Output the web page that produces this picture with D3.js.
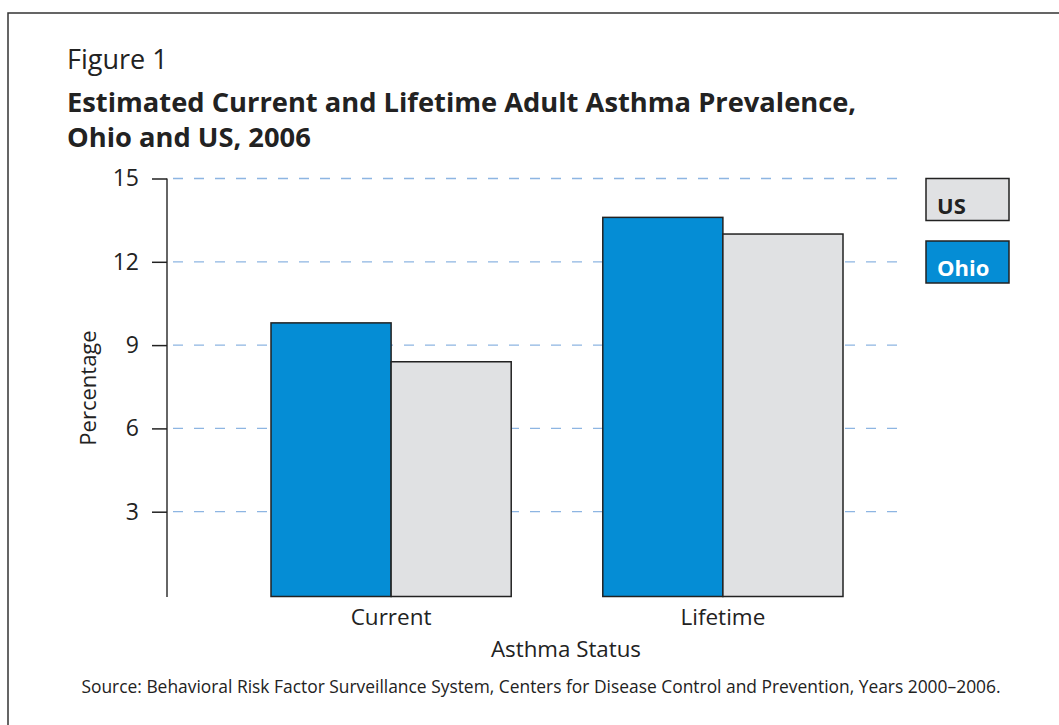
<!DOCTYPE html>
<html>
<head>
<meta charset="utf-8">
<script src="https://cdn.jsdelivr.net/npm/d3@7"></script>
<style>
  body { margin: 0; background: #fff; }
  svg { display: block; font-family: "Open Sans", "Noto Sans", sans-serif; }
</style>
</head>
<body>
<script>
// données
const categories = ["Current", "Lifetime"];
const series = ["Ohio", "US"];
const ohio = [9.8, 13.6];
const us = [8.4, 13.0];
const yTicks = [3, 6, 9, 12, 15];

const width = 1059;
const height = 725;

const colors = { Ohio: "#058dd5", US: "#e0e1e3" };

const svg = d3.select("body").append("svg")
    .attr("width", width)
    .attr("height", height);

// cadre
svg.append("path")
    .attr("d", `M8,${height + 5} L8,13 L${width + 5},13`)
    .attr("fill", "none")
    .attr("stroke", "#333")
    .attr("stroke-width", 1.5);

// titres
svg.append("text").attr("x", 67).attr("y", 69)
    .attr("font-size", 27).attr("fill", "#222").text("Figure 1");
svg.append("text").attr("x", 67).attr("y", 112)
    .attr("font-size", 27.3).attr("font-weight", "bold").attr("fill", "#222")
    .text("Estimated Current and Lifetime Adult Asthma Prevalence,");
svg.append("text").attr("x", 67).attr("y", 147)
    .attr("font-size", 27.3).attr("font-weight", "bold").attr("fill", "#222")
    .text("Ohio and US, 2006");

const y = d3.scaleLinear().domain([0, 15]).range([595, 178.5]);

const x0 = d3.scaleBand().domain(categories).range([271, 843])
    .paddingInner(0.276).paddingOuter(0);
const x1 = d3.scaleBand().domain(series).range([0, x0.bandwidth()]);

// grille
svg.append("g").selectAll("line")
    .data(yTicks)
    .join("line")
    .attr("x1", 173).attr("x2", 906)
    .attr("y1", d => y(d)).attr("y2", d => y(d))
    .attr("stroke", "#8db5e2")
    .attr("stroke-width", 1.3)
    .attr("stroke-dasharray", "10,11");

// barres
const rows = categories.map((c, i) => ({ cat: c, Ohio: ohio[i], US: us[i] }));
svg.append("g").selectAll("g")
    .data(rows)
    .join("g")
    .attr("transform", d => `translate(${x0(d.cat)},0)`)
    .selectAll("rect")
    .data(d => series.map(s => ({ s, v: d[s] })))
    .join("rect")
    .attr("x", d => x1(d.s))
    .attr("y", d => y(d.v))
    .attr("width", x1.bandwidth())
    .attr("height", d => y(0) - y(d.v) + 1.5)
    .attr("fill", d => colors[d.s])
    .attr("stroke", "#222")
    .attr("stroke-width", 1.5);

// axe Y
const yAxis = svg.append("g")
    .attr("transform", "translate(167,0)")
    .call(d3.axisLeft(y).tickValues(yTicks).tickSize(15).tickSizeOuter(0).tickPadding(13));
yAxis.select(".domain").attr("stroke", "#333").attr("stroke-width", 1.5)
    .attr("d", `M0,${y(15)}V${y(0) + 2}`);
yAxis.selectAll(".tick line").attr("stroke", "#222").attr("stroke-width", 1.5);
yAxis.selectAll(".tick text").attr("font-size", 23).attr("fill", "#222")
    .attr("font-family", "'Open Sans', sans-serif");

svg.append("text")
    .attr("transform", "translate(96,388) rotate(-90)")
    .attr("text-anchor", "middle")
    .attr("font-size", 22).attr("fill", "#222")
    .text("Percentage");

// axe X
svg.append("g").selectAll("text")
    .data(categories)
    .join("text")
    .attr("x", d => x0(d) + x0.bandwidth() / 2)
    .attr("y", 625)
    .attr("text-anchor", "middle")
    .attr("font-size", 22.5).attr("fill", "#222")
    .text(d => d);

svg.append("text")
    .attr("x", 566).attr("y", 657)
    .attr("text-anchor", "middle")
    .attr("font-size", 22.3).attr("fill", "#222")
    .text("Asthma Status");

// légende
const legend = [
    { s: "US", y: 178.5, txt: "#222" },
    { s: "Ohio", y: 241, txt: "#fff" }
];
const lg = svg.append("g").selectAll("g")
    .data(legend)
    .join("g")
    .attr("transform", d => `translate(926,${d.y})`);
lg.append("rect")
    .attr("width", 83).attr("height", 42)
    .attr("fill", d => colors[d.s])
    .attr("stroke", "#222").attr("stroke-width", 1.5);
lg.append("text")
    .attr("x", 11).attr("y", 35)
    .attr("font-size", 22).attr("font-weight", "bold")
    .attr("fill", d => d.txt)
    .text(d => d.s);

// source
svg.append("text")
    .attr("x", 541).attr("y", 693)
    .attr("text-anchor", "middle")
    .attr("font-size", 17.4).attr("fill", "#222")
    .text("Source: Behavioral Risk Factor Surveillance System, Centers for Disease Control and Prevention, Years 2000–2006.");
</script>
</body>
</html>
